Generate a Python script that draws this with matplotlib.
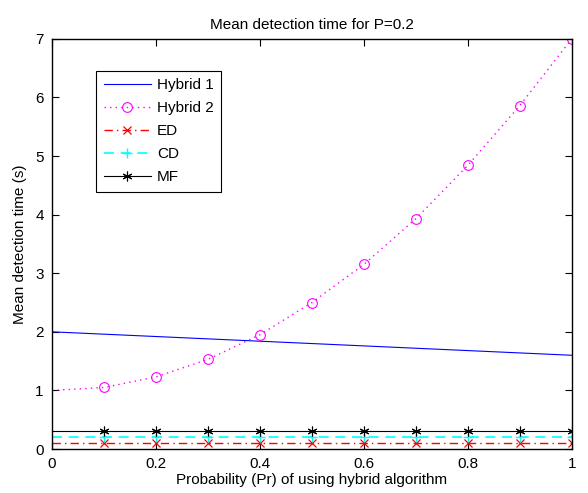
import matplotlib
matplotlib.use("Agg")
import matplotlib.pyplot as plt

plt.rcParams['font.family'] = ['Liberation Sans', 'DejaVu Sans']

x = [0.0, 0.1, 0.2, 0.3, 0.4, 0.5, 0.6, 0.7, 0.8, 0.9, 1.0]
hybrid1 = [2.0, 1.96, 1.92, 1.88, 1.84, 1.80, 1.76, 1.72, 1.68, 1.64, 1.60]
hybrid2 = [1.0, 1.05, 1.23, 1.53, 1.95, 2.50, 3.15, 3.93, 4.84, 5.86, 7.0]
ed = [0.1] * 11
cd = [0.2] * 11
mf = [0.3] * 11

xticks = [0, 0.2, 0.4, 0.6, 0.8, 1]
xticklabels = ['0', '0.2', '0.4', '0.6', '0.8', '1']
yticks = [0, 1, 2, 3, 4, 5, 6, 7]

fig = plt.figure(figsize=(5.88, 4.93), dpi=100)
ax = fig.add_axes([0.0884, 0.0892, 0.884, 0.832])

lw = 0.8
mk = slice(1, None)
ax.plot(x, hybrid1, color='#0000ff', lw=lw, label='Hybrid 1')
ax.plot(x, hybrid2, color='#ff00ff', lw=1.0, ls=(0, (1, 3)), marker='o', markersize=7,
        markerfacecolor='none', markeredgewidth=0.8, markevery=mk, label='Hybrid 2')
ax.plot(x, ed, color='#ff0000', lw=1.0, ls=(0, (6, 3, 1, 3)), marker='x', markersize=6,
        markeredgewidth=0.9, markevery=mk, label='ED')
ax.plot(x, cd, color='#00ffff', lw=1.2, ls=(0, (6, 4)), marker='+', markersize=7,
        markeredgewidth=1.0, markevery=mk, label='CD')
ax.plot(x, mf, color='#000000', lw=lw, marker=(6, 2, 0), markersize=7,
        markeredgewidth=0.8, markevery=mk, label='MF')

ax.set_xlim(0, 1)
ax.set_ylim(0, 7)
ax.set_xticks(xticks)
ax.set_xticklabels(xticklabels)
ax.set_yticks(yticks)
ax.tick_params(direction='in', length=5, width=0.8, top=True, right=True,
               labelsize=11, pad=6)
for s in ax.spines.values():
    s.set_linewidth(1.0)

ax.set_title('Mean detection time for P=0.2', fontsize=11, pad=7)
ax.set_xlabel('Probability (Pr) of using hybrid algorithm', fontsize=11, labelpad=1)
ax.set_ylabel('Mean detection time (s)', fontsize=11, labelpad=6)

leg = ax.legend(loc='upper left', bbox_to_anchor=(0.0846, 0.922), fontsize=11,
                fancybox=False, framealpha=1, edgecolor='black', handlelength=3.1,
                borderpad=0.5, labelspacing=0.58, handletextpad=0.4, borderaxespad=0)
leg.get_frame().set_linewidth(0.8)

fig.savefig('out.png', dpi=100)
